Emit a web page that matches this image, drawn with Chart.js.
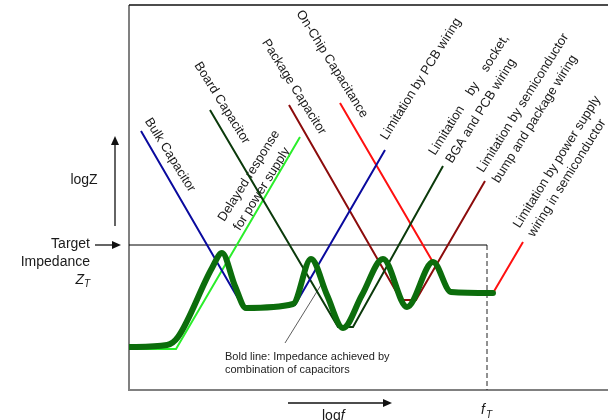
<!DOCTYPE html>
<html>
<head>
<meta charset="utf-8">
<script src="https://cdn.jsdelivr.net/npm/chart.js@4.4.1/dist/chart.umd.min.js"></script>
<style>
  html, body { margin: 0; padding: 0; background: #fff; }
</style>
</head>
<body>
<canvas id="grafico" width="608" height="420"></canvas>
<script>
// logf (x) y logZ (y) en unidades arbitrarias, 0 = esquina inferior izquierda del marco
const bulkX = [12, 114, 166, 256];
const bulkY = [259, 83, 85, 240];

const boardX = [81, 209, 224, 314];
const boardY = [280, 63, 63, 224];

const packageX = [160, 272, 287, 356];
const packageY = [285, 90, 90, 209];

const onChipX = [211, 322, 364, 394];
const onChipY = [287, 97, 97, 148];

const delayedX = [0, 47, 171];
const delayedY = [41, 41, 253];

// linea gruesa: impedancia combinada
const boldX = [0, 38, 49, 83, 93, 106, 117, 164, 182, 198, 214, 233, 254, 278, 304, 322, 364];
const boldY = [43, 45, 53, 122, 137, 104, 82, 86, 131, 95, 62, 95, 131, 83, 128, 98, 97];

const targetX = [0, 358];
const targetY = [145, 145];
const fTX = [358, 358];
const fTY = [145, 0];

const leaderX = [156, 192];
const leaderY = [47, 105];

const toPts = (xs, ys) => xs.map((x, i) => ({ x: x, y: ys[i] }));

const FONT = '"Liberation Sans", Arial, sans-serif';

// etiquetas giradas: texto, centro (px), angulo en grados
const etiquetas = [
    ['Bulk Capacitor', 170, 155, 58],
    ['Board Capacitor', 222, 103, 58],
    ['Package Capacitor', 294, 87, 58],
    ['On-Chip Capacitance', 332, 64, 58],
    ['Delayed response', 249, 176, -58],
    ['for power supply', 262, 189, -58],
    ['Limitation by PCB wiring', 421, 79, -58],
    ['Limitation    by    socket,', 469, 95, -58],
    ['BGA and PCB wiring', 481, 111, -58],
    ['Limitation by semiconductor', 523, 103, -58],
    ['bump and package wiring', 535, 119, -58],
    ['Limitation by power supply', 557, 162, -58],
    ['wiring in semiconductor', 567, 178, -58]
];

function flecha(ctx, x1, y1, x2, y2) {
    const ang = Math.atan2(y2 - y1, x2 - x1);
    ctx.beginPath();
    ctx.moveTo(x1, y1);
    ctx.lineTo(x2 - 6 * Math.cos(ang), y2 - 6 * Math.sin(ang));
    ctx.stroke();
    ctx.beginPath();
    ctx.moveTo(x2, y2);
    ctx.lineTo(x2 - 9 * Math.cos(ang) + 4 * Math.sin(ang), y2 - 9 * Math.sin(ang) - 4 * Math.cos(ang));
    ctx.lineTo(x2 - 9 * Math.cos(ang) - 4 * Math.sin(ang), y2 - 9 * Math.sin(ang) + 4 * Math.cos(ang));
    ctx.closePath();
    ctx.fill();
}

const decoraciones = {
    id: 'decoraciones',
    beforeDatasetsDraw(chart) {
        const { ctx, chartArea: a } = chart;
        ctx.save();

        // marco
        ctx.strokeStyle = '#808080';
        ctx.lineWidth = 2;
        ctx.beginPath();
        ctx.moveTo(a.left, a.top);
        ctx.lineTo(a.left, a.bottom);
        ctx.lineTo(a.right, a.bottom);
        ctx.stroke();
        ctx.strokeStyle = '#111';
        ctx.lineWidth = 1.5;
        ctx.beginPath();
        ctx.moveTo(a.left, a.top);
        ctx.lineTo(a.right, a.top);
        ctx.stroke();

        ctx.fillStyle = '#1a1a1a';
        ctx.font = '13px ' + FONT;
        ctx.textAlign = 'center';
        ctx.textBaseline = 'middle';
        etiquetas.forEach(([txt, cx, cy, deg]) => {
            ctx.save();
            ctx.translate(cx, cy);
            ctx.rotate(deg * Math.PI / 180);
            ctx.fillText(txt, 0, 0);
            ctx.restore();
        });

        // textos del eje
        ctx.font = '14px ' + FONT;
        ctx.fillText('logZ', 84, 180);
        ctx.textAlign = 'right';
        ctx.fillText('Target', 90, 244);
        ctx.fillText('Impedance', 90, 262);
        ctx.font = 'italic 14px ' + FONT;
        ctx.fillText('Z', 84, 280);
        ctx.font = 'italic 10px ' + FONT;
        ctx.textAlign = 'left';
        ctx.fillText('T', 84, 284);

        ctx.font = '14px ' + FONT;
        ctx.fillText('log', 322, 416);
        const w = ctx.measureText('log').width;
        ctx.font = 'italic 14px ' + FONT;
        ctx.fillText('f', 322 + w, 416);
        ctx.fillText('f', 481, 410);
        ctx.font = 'italic 10px ' + FONT;
        ctx.fillText('T', 486, 415);

        ctx.font = '11px ' + FONT;
        ctx.fillStyle = '#222';
        ctx.fillText('Bold line: Impedance achieved by', 225, 357);
        ctx.fillText('combination of capacitors', 225, 370);

        // flechas
        ctx.strokeStyle = '#111';
        ctx.fillStyle = '#111';
        ctx.lineWidth = 1.3;
        flecha(ctx, 115, 226, 115, 136);
        flecha(ctx, 95, 245, 121, 245);
        flecha(ctx, 288, 403, 392, 403);

        ctx.restore();
    }
};

const ctx = document.getElementById('grafico').getContext('2d');
window.graficoImpedancia = new Chart(ctx, {
    type: 'scatter',
    data: {
        datasets: [
            {
                label: 'Bold line',
                data: toPts(boldX, boldY),
                borderColor: '#0c6d0c',
                borderWidth: 6,
                cubicInterpolationMode: 'monotone',
                tension: 0.4,
                borderCapStyle: 'round',
                borderJoinStyle: 'round'
            },
            { label: 'Bulk Capacitor', data: toPts(bulkX, bulkY), borderColor: '#0a0a9e', borderWidth: 2 },
            { label: 'Board Capacitor', data: toPts(boardX, boardY), borderColor: '#0b3a0b', borderWidth: 2 },
            { label: 'Package Capacitor', data: toPts(packageX, packageY), borderColor: '#8c0c0c', borderWidth: 2 },
            { label: 'On-Chip Capacitance', data: toPts(onChipX, onChipY), borderColor: '#ff1010', borderWidth: 2 },
            { label: 'Delayed response', data: toPts(delayedX, delayedY), borderColor: '#2aee2a', borderWidth: 2 },
            { label: 'Target', data: toPts(targetX, targetY), borderColor: '#000', borderWidth: 1 },
            { label: 'fT', data: toPts(fTX, fTY), borderColor: '#222', borderWidth: 1, borderDash: [5, 3] },
            { label: 'leader', data: toPts(leaderX, leaderY), borderColor: '#333', borderWidth: 0.8 }
        ].map(d => Object.assign({ showLine: true, pointRadius: 0, fill: false }, d))
    },
    options: {
        responsive: false,
        animation: false,
        layout: { padding: { left: 129, top: 5, right: 0, bottom: 30 } },
        plugins: {
            legend: { display: false },
            tooltip: { enabled: false }
        },
        scales: {
            x: { type: 'linear', min: 0, max: 479, display: false },
            y: { type: 'linear', min: 0, max: 385, display: false }
        }
    },
    plugins: [decoraciones]
});
</script>
</body>
</html>
